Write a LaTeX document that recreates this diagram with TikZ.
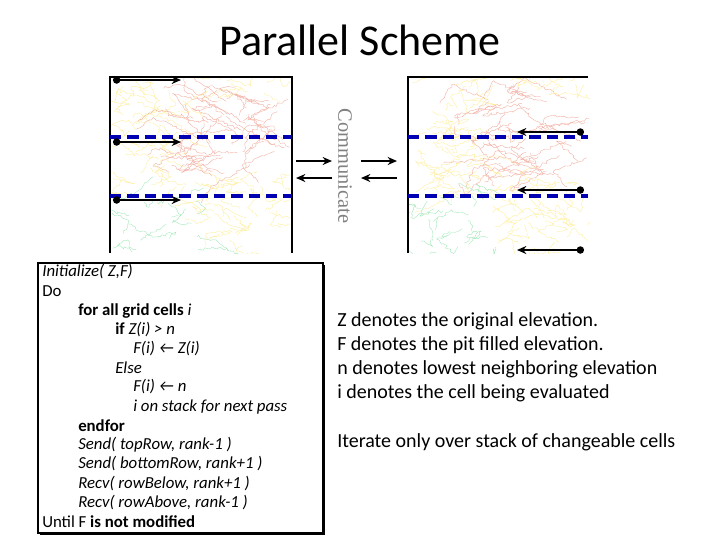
\documentclass[tikz,border=0pt]{standalone}
\usepackage{fontspec}
\setmainfont{Carlito}
\newfontfamily\commfont{Liberation Serif}
\usetikzlibrary{decorations.pathmorphing,arrows.meta}
\begin{document}
\begin{tikzpicture}[x=0.75pt,y=-0.75pt,
  blu/.style={draw=blue!70!black,line width=2.4pt,dash pattern=on 8.5pt off 4.5pt},
  arr/.style={line width=1.5pt,-{Stealth[length=7pt,width=6pt]}},
  dotarr/.style={line width=1.5pt,{Circle[length=5.5pt]}-{Stealth[length=7pt,width=6pt]}},
  contour/.style={line width=0.3pt,decorate,decoration={random steps,segment length=2pt,amplitude=1.2pt}},
  code/.style={anchor=west,inner sep=0pt,font=\fontsize{12.6}{14}\selectfont}]
\useasboundingbox (0,0) rectangle (720,540);
\node[font=\fontsize{33}{37}\selectfont] (title) at (360,40) {Parallel Scheme};
% terrain images
\pgfmathsetseed{7}
\foreach \xo/\nm in {110/L,408/R}{
  \begin{scope}
  \clip (\xo,77) rectangle (\xo+182,253);
  \foreach \i in {1,...,150}{
    \pgfmathsetmacro{\px}{\xo+rnd*182}
    \pgfmathsetmacro{\py}{77+rnd*176}
    \pgfmathsetmacro{\gr}{(\py>195 && \px<\xo+90) ? 1 : 0}
    \pgfmathsetmacro{\rd}{(\py>95 && \py<175 && \px>\xo+80) ? 1 : 0}
    \ifdim\gr pt>0.5pt
      \draw[contour,green!50!teal!35] (\px,\py) -- ++(rand*25,rand*15) -- ++(rand*25,rand*15);
    \else\ifdim\rd pt>0.5pt
      \draw[contour,red!50!brown!40] (\px,\py) -- ++(-20-rnd*30,rand*25) -- ++(rand*20,rand*20);
    \else
      \draw[contour,yellow!70!orange!35] (\px,\py) -- ++(rand*25,rand*15) -- ++(rand*25,rand*15);
    \fi\fi
  }
  \end{scope}
}
\draw[line width=1pt] (110,253) -- (110,77) -- (292,77) -- (292,253);
\draw[line width=1pt] (408,253) -- (408,77) -- (588,77);
\draw[blu] (110,137) -- (292,137);
\draw[blu] (110,196) -- (292,196);
\draw[blu] (408,137) -- (588,137);
\draw[blu] (408,196) -- (588,196);
% arrows
\foreach \y/\n in {80/a,142/b,200/c}{
  \coordinate (l\n1) at (113,\y); \coordinate (l\n2) at (181,\y);
  \draw[dotarr] (l\n1) -- (l\n2);}
\foreach \y/\n in {132/a,190/b,250/c}{
  \coordinate (r\n1) at (584,\y); \coordinate (r\n2) at (517,\y);
  \draw[dotarr] (r\n1) -- (r\n2);}
\coordinate (m1) at (296,161); \coordinate (m2) at (332,161);
\coordinate (m3) at (332,178); \coordinate (m4) at (296,178);
\coordinate (m5) at (361,161); \coordinate (m6) at (397,161);
\coordinate (m7) at (397,178); \coordinate (m8) at (361,178);
\draw[arr] (m1) -- (m2); \draw[arr] (m3) -- (m4);
\draw[arr] (m5) -- (m6); \draw[arr] (m7) -- (m8);
\node[rotate=-90,text=gray,font=\commfont\fontsize{15.3}{17}\selectfont] (comm) at (345,166) {Communicate};
% code box
\fill[black] (40,265) rectangle (325,535);
\draw[fill=white,line width=0.8pt] (38,263) rectangle (323,533);
\node[code] (c1) at (42,272) {\itshape Initialize( Z,F)};
\node[code] (c2) at (42,291) {Do};
\node[code] (c3) at (78,311) {\bfseries for all grid cells \itshape\mdseries i};
\node[code] (c4) at (115,330) {\bfseries if \mdseries\itshape Z(i) > n};
\node[code] (c5) at (133,349) {\itshape F(i) ← Z(i)};
\node[code] (c6) at (115,368) {\itshape Else};
\node[code] (c7) at (133,387) {\itshape F(i) ← n};
\node[code] (c8) at (133,407) {\itshape i on stack for next pass};
\node[code] (c9) at (78,426) {\bfseries endfor};
\node[code] (c10) at (78,445) {\itshape Send( topRow, rank-1 )};
\node[code] (c11) at (78,464) {\itshape Send( bottomRow, rank+1 )};
\node[code] (c12) at (78,484) {\itshape Recv( rowBelow, rank+1 )};
\node[code] (c13) at (78,503) {\itshape Recv( rowAbove, rank-1 )};
\node[code] (c14) at (42,522) {Until F \bfseries is not modified};
% right text
\node[anchor=north west,inner sep=0pt,align=left,font=\fontsize{15}{18}\selectfont] (desc) at (337,312)
 {Z denotes the original elevation.\\F denotes the pit filled elevation.\\n denotes lowest neighboring elevation\\i denotes the cell being evaluated};
\node[anchor=west,inner sep=0pt,font=\fontsize{15}{18}\selectfont] (iter) at (337,442) {Iterate only over stack of changeable cells};
\end{tikzpicture}
\end{document}
